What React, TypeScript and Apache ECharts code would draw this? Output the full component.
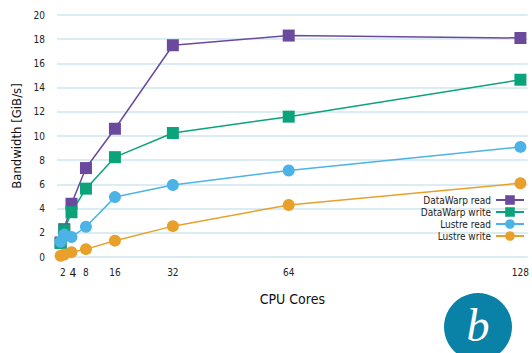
import React, { useEffect, useRef } from "react";
import * as echarts from "echarts";

const cores = [1, 2, 4, 8, 16, 32, 64, 128];
const dataWarpRead = [1.2, 2.3, 4.4, 7.35, 10.6, 17.5, 18.3, 18.1];
const dataWarpWrite = [1.15, 2.2, 3.7, 5.65, 8.25, 10.25, 11.6, 14.65];
const lustreRead = [1.25, 1.85, 1.65, 2.5, 4.95, 5.95, 7.15, 9.1];
const lustreWrite = [0.1, 0.2, 0.4, 0.65, 1.35, 2.55, 4.3, 6.1];
const xTicks = [2, 4, 8, 16, 32, 64, 128];
const seriesNames = ["DataWarp read", "DataWarp write", "Lustre read", "Lustre write"];
const colors = ["#6b4a9e", "#0aa37a", "#4cb3e6", "#e9a02b"];

const FONT = "'DejaVu Sans Condensed', 'Liberation Sans Narrow', sans-serif";

export default function App() {
  const ref = useRef<HTMLDivElement>(null);
  useEffect(() => {
    if (!ref.current) return;
    const chart = echarts.init(ref.current, null, { renderer: "svg" });
    const all = [dataWarpRead, dataWarpWrite, lustreRead, lustreWrite];
    const symbols = ["rect", "rect", "circle", "circle"];
    chart.setOption({
      animation: false,
      textStyle: { fontFamily: FONT },
      grid: { left: 57, right: 0, top: 15, bottom: 96 },
      legend: {
        orient: "vertical",
        right: 2,
        top: 190,
        align: "right",
        itemWidth: 28,
        itemHeight: 12,
        itemGap: 2,
        textStyle: { fontFamily: FONT, fontSize: 10, color: "#222" },
        data: seriesNames,
      },
      xAxis: {
        type: "value",
        min: 0,
        max: 130,
        name: "CPU Cores",
        nameLocation: "middle",
        nameGap: 35,
        nameTextStyle: { fontFamily: FONT, fontSize: 14, color: "#111" },
        axisLine: { show: false },
        axisTick: { show: false },
        splitLine: { show: false },
        axisLabel: {
          customValues: xTicks,
          hideOverlap: false,
          fontFamily: FONT,
          fontSize: 10,
          color: "#222",
          margin: 10,
          formatter: (v: number) =>
            v === 4 ? "{big|4}" : v === 2 ? "{two|2}" : String(v),
          rich: {
            big: { fontSize: 12, fontFamily: FONT, color: "#111", padding: [0, 0, 0, 3] },
            two: { fontSize: 10, fontFamily: FONT, color: "#222", padding: [0, 3, 0, 0] },
          },
        },
      },
      yAxis: {
        type: "value",
        min: 0,
        max: 20,
        interval: 2,
        name: "Bandwidth [GiB/s]",
        nameLocation: "middle",
        nameGap: 31,
        nameTextStyle: { fontFamily: FONT, fontSize: 13, color: "#111" },
        axisLine: { show: false },
        axisTick: { show: false },
        axisLabel: { fontFamily: FONT, fontSize: 10, color: "#222", margin: 12 },
        splitLine: { lineStyle: { color: "#cfe6ef", width: 1.5 } },
      },
      series: all.map((d, i) => ({
        name: seriesNames[i],
        type: "line",
        data: cores.map((c, j) => [c, d[j]]),
        symbol: symbols[i],
        symbolSize: 12,
        showSymbol: true,
        lineStyle: { color: colors[i], width: 1.5 },
        itemStyle: { color: colors[i] },
      })),
      graphic: [
        {
          type: "circle",
          shape: { cx: 478, cy: 327, r: 34 },
          style: { fill: "#0a82a8" },
        },
        {
          type: "text",
          x: 478,
          y: 325,
          style: {
            text: "b",
            fill: "#ffffff",
            font: "italic 46px 'Liberation Serif', 'DejaVu Serif', serif",
            align: "center",
            verticalAlign: "middle",
          },
        },
      ],
    });
    return () => chart.dispose();
  }, []);
  return <div ref={ref} style={{ width: 532, height: 353, position: "absolute", left: 0, top: 0 }} />;
}
